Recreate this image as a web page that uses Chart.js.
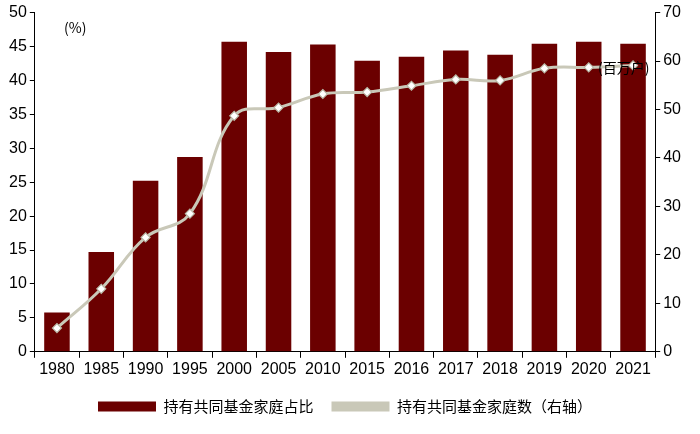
<!DOCTYPE html>
<html>
<head>
<meta charset="utf-8">
<script src="https://cdn.jsdelivr.net/npm/chart.js@4"></script>
<style>
  body { margin: 0; background: #fff; }
  #wrap { position: relative; width: 700px; height: 434px; }
  .unit { position: absolute; font: 14px "Noto Sans CJK SC", "Liberation Sans", sans-serif; color: #000; }
</style>
</head>
<body>
<div id="wrap">
  <canvas id="chart" width="700" height="434"></canvas>
  <div class="unit" style="left:64px;top:17px;">(%)</div>
  <div class="unit" style="left:598px;top:57px;">(百万户)</div>
</div>
<script>
// Categories and values
const years = ['1980', '1985', '1990', '1995', '2000', '2005', '2010', '2015', '2016', '2017', '2018', '2019', '2020', '2021'];
const shareOfHouseholds = [5.8, 14.7, 25.2, 28.7, 45.7, 44.2, 45.3, 42.9, 43.5, 44.4, 43.8, 45.4, 45.7, 45.4];
const householdCount = [4.9, 13.0, 23.6, 28.5, 48.7, 50.4, 53.2, 53.6, 54.9, 56.2, 56.0, 58.5, 58.7, 59.1];
const leftTicks = [0, 5, 10, 15, 20, 25, 30, 35, 40, 45, 50];
const rightTicks = [0, 10, 20, 30, 40, 50, 60, 70];

const font = { family: '"Liberation Sans", "Noto Sans CJK SC", sans-serif', size: 16 };
const legendFont = { family: '"Noto Sans CJK SC", sans-serif', size: 15 };

new Chart(document.getElementById('chart'), {
    data: {
        labels: years,
        datasets: [{
            type: 'line',
            label: '持有共同基金家庭数（右轴）',
            data: householdCount,
            yAxisID: 'y1',
            borderColor: '#C9C8B8',
            backgroundColor: '#fff',
            borderWidth: 3,
            tension: 0.4,
            pointStyle: 'rectRot',
            pointRadius: 4.5,
            pointBorderColor: '#B8B7A5',
            pointBorderWidth: 1.2,
            pointBackgroundColor: '#fff',
            order: 0
        }, {
            type: 'bar',
            label: '持有共同基金家庭占比',
            data: shareOfHouseholds,
            yAxisID: 'y',
            backgroundColor: '#6B0000',
            categoryPercentage: 0.8,
            barPercentage: 0.72,
            order: 1
        }]
    },
    options: {
        responsive: false,
        animation: false,
        layout: { padding: { left: 6, right: 16, top: 12, bottom: 10 } },
        plugins: {
            legend: {
                position: 'bottom',
                reverse: true,
                labels: {
                    font: legendFont,
                    color: '#000',
                    boxWidth: 58,
                    boxHeight: 10,
                    padding: 18,
                    generateLabels: function(chart) {
                        const items = Chart.defaults.plugins.legend.labels.generateLabels(chart);
                        items.forEach(it => {
                            if (it.datasetIndex === 0) {
                                it.fillStyle = '#C9C8B8';
                                it.strokeStyle = '#C9C8B8';
                                it.lineWidth = 0;
                            }
                        });
                        return items;
                    }
                }
            },
            tooltip: { enabled: false }
        },
        scales: {
            x: {
                grid: { drawOnChartArea: false, drawTicks: true, tickLength: 6, color: '#000', offset: true },
                border: { color: '#000' },
                ticks: { font: font, color: '#000', maxRotation: 0, autoSkip: false, padding: 2 }
            },
            y: {
                position: 'left',
                min: 0,
                max: 50,
                afterBuildTicks: axis => { axis.ticks = leftTicks.map(v => ({ value: v })); },
                grid: { drawOnChartArea: false, tickLength: 5, color: '#000' },
                border: { color: '#000' },
                ticks: { font: font, color: '#000' }
            },
            y1: {
                position: 'right',
                min: 0,
                max: 70,
                afterBuildTicks: axis => { axis.ticks = rightTicks.map(v => ({ value: v })); },
                grid: { drawOnChartArea: false, tickLength: 5, color: '#000' },
                border: { color: '#000' },
                ticks: { font: font, color: '#000' }
            }
        }
    }
});
</script>
</body>
</html>
